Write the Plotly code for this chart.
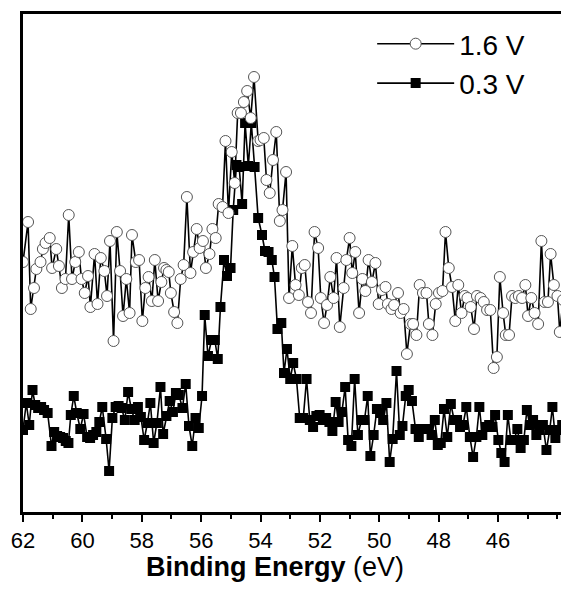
import plotly.graph_objects as go

# 1.6 V (open circles) -- binding energy (eV) and intensity (a.u.)
e_16 = [62.00, 61.83, 61.74, 61.63, 61.55, 61.41, 61.33, 61.24, 61.10, 61.02,
        60.88, 60.79, 60.69, 60.57, 60.46, 60.35, 60.24, 60.12, 60.03, 59.92,
        59.81, 59.73, 59.59, 59.49, 59.38, 59.26, 59.17, 59.07, 58.95, 58.84,
        58.73, 58.63, 58.52, 58.41, 58.33, 58.20, 58.09, 57.98, 57.88, 57.77,
        57.66, 57.56, 57.45, 57.34, 57.25, 57.17, 57.09, 57.02, 56.91, 56.80,
        56.69, 56.59, 56.48, 56.36, 56.27, 56.15, 56.05, 55.94, 55.84, 55.72,
        55.62, 55.51, 55.41, 55.28, 55.18, 55.08, 54.97, 54.87, 54.77, 54.66,
        54.56, 54.45, 54.33, 54.22, 54.08, 54.00, 53.89, 53.80, 53.69, 53.58,
        53.47, 53.35, 53.26, 53.14, 53.04, 52.93, 52.82, 52.71, 52.61, 52.51,
        52.40, 52.30, 52.18, 52.06, 51.97, 51.86, 51.76, 51.65, 51.54, 51.44,
        51.33, 51.20, 51.11, 51.00, 50.91, 50.81, 50.68, 50.57, 50.47, 50.36,
        50.25, 50.13, 50.02, 49.91, 49.79, 49.71, 49.59, 49.50, 49.37, 49.28,
        49.18, 49.07, 48.95, 48.86, 48.75, 48.64, 48.53, 48.41, 48.33, 48.21,
        48.10, 47.99, 47.87, 47.77, 47.66, 47.55, 47.44, 47.34, 47.23, 47.12,
        47.03, 46.92, 46.81, 46.71, 46.59, 46.48, 46.37, 46.26, 46.15, 46.04,
        45.94, 45.83, 45.74, 45.63, 45.53, 45.42, 45.30, 45.19, 45.08, 44.99,
        44.88, 44.77, 44.65, 44.54, 44.43, 44.32, 44.23, 44.12, 44.00, 43.92,
        43.81]
i_16 = [250, 290, 203, 224, 243, 250, 263, 269, 274, 244,
        263, 246, 224, 233, 297, 233, 250, 260, 233, 219,
        236, 205, 258, 208, 254, 241, 216, 271, 171, 280,
        241, 196, 233, 199, 277, 250, 252, 191, 224, 235,
        211, 252, 211, 230, 244, 242, 240, 219, 200, 189,
        233, 247, 315, 239, 260, 283, 264, 271, 244, 258,
        283, 274, 308, 305, 371, 299, 360, 329, 399, 399,
        410, 421, 394, 435, 371, 372, 374, 332, 319, 352,
        380, 291, 302, 340, 214, 266, 227, 217, 244, 247,
        210, 199, 280, 264, 214, 189, 207, 235, 214, 254,
        185, 224, 252, 274, 239, 260, 199, 233, 221, 252,
        230, 249, 208, 222, 225, 208, 203, 207, 219, 199,
        203, 158, 188, 188, 177, 227, 219, 219, 188, 177,
        208, 219, 221, 280, 244, 225, 191, 227, 199, 216,
        214, 205, 183, 216, 214, 210, 202, 202, 144, 155,
        235, 199, 177, 177, 216, 214, 216, 214, 227, 196,
        214, 199, 188, 271, 210, 210, 258, 227, 216, 180,
        212]

# 0.3 V (filled squares)
e_03 = [62.00, 61.89, 61.79, 61.68, 61.59, 61.49, 61.39, 61.29, 61.17, 61.04,
        60.95, 60.85, 60.75, 60.65, 60.56, 60.47, 60.39, 60.29, 60.19, 60.07,
        59.96, 59.84, 59.74, 59.64, 59.53, 59.43, 59.33, 59.20, 59.10, 58.99,
        58.88, 58.78, 58.68, 58.57, 58.46, 58.35, 58.24, 58.13, 58.03, 57.92,
        57.81, 57.71, 57.60, 57.49, 57.37, 57.28, 57.17, 57.06, 56.95, 56.85,
        56.75, 56.63, 56.52, 56.41, 56.30, 56.19, 56.08, 55.97, 55.88, 55.77,
        55.65, 55.54, 55.44, 55.35, 55.23, 55.13, 55.01, 54.92, 54.81, 54.72,
        54.62, 54.52, 54.41, 54.31, 54.20, 54.08, 53.95, 53.85, 53.73, 53.62,
        53.53, 53.43, 53.30, 53.21, 53.11, 53.00, 52.90, 52.79, 52.68, 52.56,
        52.45, 52.34, 52.23, 52.12, 52.01, 51.90, 51.79, 51.68, 51.58, 51.47,
        51.37, 51.26, 51.15, 51.05, 50.94, 50.83, 50.72, 50.60, 50.50, 50.39,
        50.30, 50.19, 50.08, 49.97, 49.87, 49.76, 49.65, 49.55, 49.42, 49.31,
        49.22, 49.11, 49.01, 48.90, 48.78, 48.67, 48.56, 48.45, 48.34, 48.24,
        48.13, 48.03, 47.93, 47.82, 47.71, 47.59, 47.48, 47.38, 47.28, 47.18,
        47.07, 46.95, 46.84, 46.73, 46.63, 46.53, 46.42, 46.30, 46.19, 46.10,
        45.99, 45.89, 45.78, 45.67, 45.57, 45.46, 45.35, 45.24, 45.13, 45.03,
        44.93, 44.82, 44.71, 44.60, 44.49, 44.37, 44.26, 44.17, 44.07, 43.96,
        43.84]
i_03 = [82, 109, 87, 122, 107, 104, 105, 102, 99, 66,
        80, 76, 75, 74, 71, 69, 97, 116, 99, 83,
        98, 75, 74, 77, 80, 90, 105, 73, 41, 94,
        105, 106, 104, 92, 120, 103, 92, 105, 95, 72,
        89, 109, 69, 89, 125, 78, 96, 111, 100, 119,
        117, 104, 128, 86, 66, 94, 84, 116, 197, 156,
        172, 172, 153, 205, 252, 236, 244, 302, 347, 345,
        308, 389, 346, 389, 345, 294, 277, 261, 260, 252,
        235, 183, 189, 139, 163, 133, 149, 133, 94, 94,
        133, 92, 85, 96, 97, 92, 94, 90, 81, 110,
        90, 100, 125, 72, 66, 133, 77, 92, 92, 116,
        56, 77, 103, 99, 92, 109, 50, 73, 141, 77,
        86, 116, 122, 111, 83, 75, 83, 83, 83, 77,
        92, 67, 69, 103, 75, 108, 92, 92, 85, 87,
        105, 75, 55, 75, 105, 77, 85, 87, 85, 97,
        72, 59, 50, 97, 72, 72, 83, 64, 72, 102,
        87, 92, 77, 82, 87, 62, 82, 105, 74, 82,
        87]

x_ticks = [62, 60, 58, 56, 54, 52, 50, 48, 46]
labels = ["1.6 V", "0.3 V"]
x_title = "<b>Binding Energy</b> (eV)"

FONT = "Arial, 'Liberation Sans', sans-serif"

fig = go.Figure()
fig.add_trace(go.Scatter(
    x=e_03, y=i_03, mode="lines+markers", name=labels[1], legendrank=2,
    line=dict(color="black", width=1.6),
    marker=dict(symbol="square", size=10, color="black",
                line=dict(color="black", width=0)),
))
fig.add_trace(go.Scatter(
    x=e_16, y=i_16, mode="lines+markers", name=labels[0], legendrank=1,
    line=dict(color="black", width=1.6),
    marker=dict(symbol="circle", size=11, color="white",
                line=dict(color="#555555", width=1)),
))

fig.update_layout(
    width=561, height=594,
    margin=dict(l=23, r=0, t=14, b=82),
    paper_bgcolor="white", plot_bgcolor="white",
    font=dict(family=FONT, color="black"),
    showlegend=True,
    legend=dict(
        x=0.649, y=0.99, xanchor="left", yanchor="top",
        bgcolor="rgba(0,0,0,0)", borderwidth=0,
        font=dict(size=28, family=FONT, color="black"),
        itemwidth=77, tracegroupgap=0,
    ),
    xaxis=dict(
        range=[62, 43.88], autorange=False,
        tickvals=x_ticks, ticktext=[str(v) for v in x_ticks],
        ticks="outside", ticklen=7, tickwidth=2, tickcolor="black",
        minor=dict(dtick=1, tick0=0, ticks="outside", ticklen=4, tickwidth=2, tickcolor="black"),
        showline=True, linewidth=2.5, linecolor="black", mirror=True,
        showgrid=False, zeroline=False,
        tickfont=dict(size=22, family=FONT, color="black"),
    ),
    yaxis=dict(
        range=[0, 498], autorange=False,
        showticklabels=False, ticks="",
        showline=True, linewidth=2.5, linecolor="black", mirror=False,
        showgrid=False, zeroline=False,
    ),
    annotations=[dict(
        text=x_title, xref="paper", yref="paper", x=0.468, y=-0.1104,
        xanchor="center", yanchor="middle", showarrow=False,
        font=dict(size=27, family=FONT, color="black"),
    )],
)

fig.write_html("out.html")
